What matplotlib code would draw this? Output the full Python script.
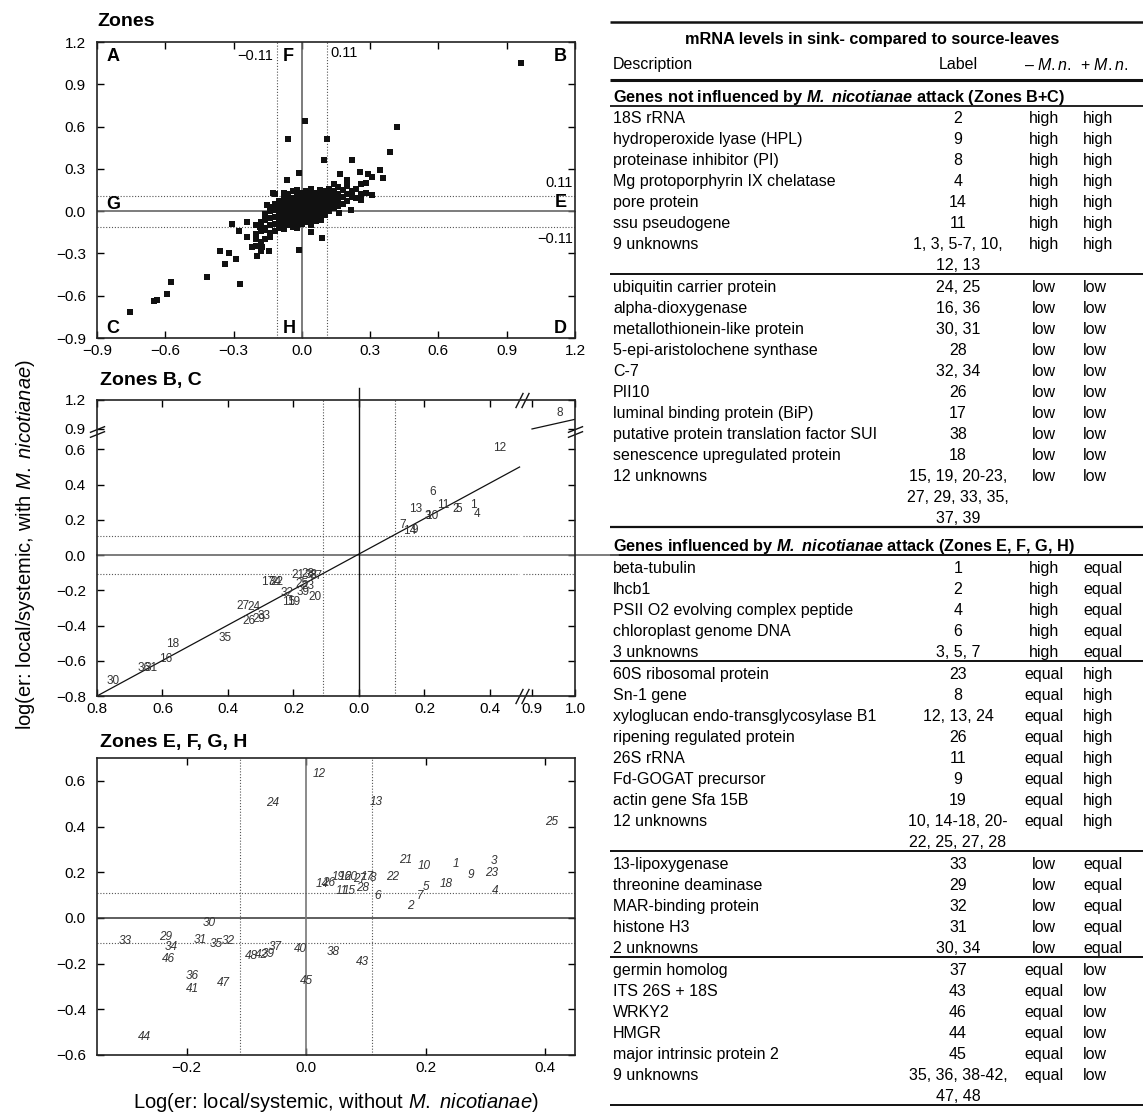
import numpy as np
import matplotlib.pyplot as plt
from matplotlib.transforms import offset_copy

plt.rcParams['font.family'] = ['Liberation Sans', 'DejaVu Sans']
plt.rcParams['mathtext.fontset'] = 'custom'
plt.rcParams['mathtext.rm'] = 'Liberation Sans'
plt.rcParams['mathtext.it'] = 'Liberation Sans:italic'
plt.rcParams['mathtext.bf'] = 'Liberation Sans:bold'
plt.rcParams['mathtext.bfit'] = 'Liberation Sans:italic:bold'

# ---------------- data ----------------
# top panel: every spot (x = without M.n., y = with M.n.)
zone_outliers = [
    (-0.756, -0.716), (-0.65, -0.638), (-0.637, -0.631), (-0.593, -0.589),
    (-0.575, -0.504), (-0.417, -0.47), (-0.36, -0.284), (-0.32, -0.30),
    (-0.337, -0.377), (-0.29, -0.343), (-0.272, -0.52), (-0.307, -0.092),
    (-0.24, -0.08), (-0.278, -0.142), (-0.243, -0.184), (-0.221, -0.255),
    (-0.199, -0.319), (-0.177, -0.255), (-0.145, -0.284), (-0.163, -0.135),
    (-0.185, -0.113), (-0.141, -0.156), (-0.128, 0.128), (-0.155, 0.043),
    (-0.064, 0.22), (-0.06, 0.51), (-0.012, 0.27), (-0.012, -0.277),
    (0.962, 1.05), (0.013, 0.638), (0.11, 0.51), (0.098, 0.366),
    (0.42, 0.60), (0.388, 0.418), (0.22, 0.36), (0.343, 0.29),
    (0.356, 0.233), (0.255, 0.28), (0.29, 0.26), (0.307, 0.24),
    (0.167, 0.26), (0.2, 0.22), (0.31, 0.113), (0.262, 0.078),
    (0.215, 0.007), (0.163, -0.015), (0.083, -0.064), (0.04, -0.149),
    (0.088, -0.19),
]
zone_cluster = {
    -0.20: [-0.25, -0.2, -0.16, -0.1],
    -0.18: [-0.28, -0.22, -0.14, -0.08],
    -0.16: [-0.2, -0.12, -0.06, -0.02],
    -0.14: [-0.18, -0.1, -0.05, 0.0, 0.03],
    -0.12: [-0.14, -0.09, -0.04, 0.01, 0.05, 0.12],
    -0.10: [-0.12, -0.08, -0.05, -0.01, 0.03, 0.07],
    -0.08: [-0.13, -0.09, -0.06, -0.02, 0.02, 0.05, 0.09, 0.13],
    -0.06: [-0.1, -0.07, -0.03, 0.0, 0.04, 0.08, 0.12],
    -0.04: [-0.11, -0.08, -0.04, -0.01, 0.02, 0.05, 0.09, 0.14],
    -0.02: [-0.12, -0.08, -0.05, -0.02, 0.01, 0.04, 0.07, 0.11, 0.15],
    0.00: [-0.09, -0.06, -0.03, 0.0, 0.03, 0.06, 0.1, 0.13],
    0.02: [-0.08, -0.05, -0.02, 0.01, 0.04, 0.07, 0.1, 0.14],
    0.04: [-0.1, -0.06, -0.03, 0.0, 0.03, 0.06, 0.09, 0.12, 0.16],
    0.06: [-0.07, -0.04, 0.0, 0.03, 0.06, 0.09, 0.13],
    0.08: [-0.05, -0.02, 0.02, 0.05, 0.08, 0.11, 0.15],
    0.10: [-0.03, 0.0, 0.03, 0.06, 0.1, 0.14],
    0.12: [0.0, 0.04, 0.08, 0.12, 0.16],
    0.14: [0.02, 0.06, 0.1, 0.14, 0.19],
    0.16: [0.04, 0.08, 0.12, 0.17],
    0.18: [0.05, 0.1, 0.15],
    0.20: [0.07, 0.12, 0.18],
    0.22: [0.1, 0.14],
    0.24: [0.09, 0.16],
    0.26: [0.12, 0.19],
    0.28: [0.13, 0.2],
}

# middle panel: zones B, C (label, x, y)
bc_labels = [
    ('1', 0.348, 0.283), ('2', 0.295, 0.26), ('3', 0.21, 0.22), ('4', 0.36, 0.232),
    ('5', 0.305, 0.26), ('6', 0.226, 0.357), ('7', 0.134, 0.17), ('8', 0.965, 1.07),
    ('9', 0.17, 0.14), ('10', 0.222, 0.222), ('11', 0.258, 0.283), ('12', 0.43, 0.606),
    ('13', 0.174, 0.26), ('14', 0.155, 0.136),
    ('30', -0.75, -0.714), ('36', -0.655, -0.64), ('31', -0.635, -0.64),
    ('16', -0.59, -0.589), ('18', -0.57, -0.504), ('35', -0.41, -0.47),
    ('27', -0.355, -0.29), ('24', -0.32, -0.295), ('26', -0.335, -0.375),
    ('29', -0.305, -0.365), ('33', -0.29, -0.345), ('17', -0.28, -0.153),
    ('34', -0.255, -0.153), ('22', -0.25, -0.155), ('21', -0.185, -0.113),
    ('28', -0.155, -0.11), ('38', -0.145, -0.115), ('37', -0.13, -0.12),
    ('25', -0.175, -0.165), ('23', -0.155, -0.175), ('39', -0.17, -0.21),
    ('32', -0.22, -0.215), ('15', -0.215, -0.265), ('19', -0.2, -0.265),
    ('20', -0.135, -0.24),
]

# bottom panel: zones E, F, G, H (label, x, y)
efgh_labels = [
    ('12', 0.022, 0.628), ('13', 0.117, 0.507), ('24', -0.057, 0.503), ('25', 0.41, 0.42),
    ('3', 0.315, 0.25), ('23', 0.31, 0.197), ('4', 0.316, 0.12), ('9', 0.275, 0.187),
    ('1', 0.25, 0.235), ('18', 0.235, 0.15), ('5', 0.2, 0.135), ('7', 0.19, 0.095),
    ('2', 0.174, 0.052), ('21', 0.166, 0.253), ('10', 0.198, 0.227), ('22', 0.144, 0.18),
    ('6', 0.119, 0.095), ('14', 0.027, 0.148), ('26', 0.037, 0.152), ('19', 0.054, 0.178),
    ('16', 0.065, 0.178), ('20', 0.075, 0.178), ('27', 0.089, 0.17), ('17', 0.102, 0.178),
    ('8', 0.112, 0.176), ('11', 0.06, 0.118), ('15', 0.072, 0.12), ('28', 0.095, 0.133),
    ('30', -0.162, -0.023), ('33', -0.303, -0.10), ('29', -0.235, -0.083),
    ('34', -0.225, -0.127), ('31', -0.178, -0.097), ('35', -0.151, -0.115),
    ('32', -0.131, -0.10), ('37', -0.052, -0.127), ('40', -0.01, -0.137),
    ('38', 0.045, -0.15), ('46', -0.23, -0.18), ('36', -0.19, -0.256),
    ('41', -0.19, -0.312), ('47', -0.139, -0.287), ('45', 0.0, -0.277),
    ('44', -0.27, -0.52), ('43', 0.094, -0.193), ('48', -0.092, -0.167),
    ('42', -0.075, -0.163), ('39', -0.064, -0.158),
]

threshold = 0.11

# table
table_title = 'mRNA levels in sink- compared to source-leaves'
group1 = r'Genes not influenced by $\mathbfit{M.\ nicotianae}$ attack (Zones B+C)'
group2 = r'Genes influenced by $\mathbfit{M.\ nicotianae}$ attack (Zones E, F, G, H)'
block_1a = [
    ('18S rRNA', '2', 'high', 'high'),
    ('hydroperoxide lyase (HPL)', '9', 'high', 'high'),
    ('proteinase inhibitor (PI)', '8', 'high', 'high'),
    ('Mg protoporphyrin IX chelatase', '4', 'high', 'high'),
    ('pore protein', '14', 'high', 'high'),
    ('ssu pseudogene', '11', 'high', 'high'),
    ('9 unknowns', '1, 3, 5-7, 10,\n12, 13', 'high', 'high'),
]
block_1b = [
    ('ubiquitin carrier protein', '24, 25', 'low', 'low'),
    ('alpha-dioxygenase', '16, 36', 'low', 'low'),
    ('metallothionein-like protein', '30, 31', 'low', 'low'),
    ('5-epi-aristolochene synthase', '28', 'low', 'low'),
    ('C-7', '32, 34', 'low', 'low'),
    ('PII10', '26', 'low', 'low'),
    ('luminal binding protein (BiP)', '17', 'low', 'low'),
    ('putative protein translation factor SUI', '38', 'low', 'low'),
    ('senescence upregulated protein', '18', 'low', 'low'),
    ('12 unknowns', '15, 19, 20-23,\n27, 29, 33, 35,\n37, 39', 'low', 'low'),
]
block_2a = [
    ('beta-tubulin', '1', 'high', 'equal'),
    ('lhcb1', '2', 'high', 'equal'),
    ('PSII O2 evolving complex peptide', '4', 'high', 'equal'),
    ('chloroplast genome DNA', '6', 'high', 'equal'),
    ('3 unknowns', '3, 5, 7', 'high', 'equal'),
]
block_2b = [
    ('60S ribosomal protein', '23', 'equal', 'high'),
    ('Sn-1 gene', '8', 'equal', 'high'),
    ('xyloglucan endo-transglycosylase B1', '12, 13, 24', 'equal', 'high'),
    ('ripening regulated protein', '26', 'equal', 'high'),
    ('26S rRNA', '11', 'equal', 'high'),
    ('Fd-GOGAT precursor', '9', 'equal', 'high'),
    ('actin gene Sfa 15B', '19', 'equal', 'high'),
    ('12 unknowns', '10, 14-18, 20-\n22, 25, 27, 28', 'equal', 'high'),
]
block_2c = [
    ('13-lipoxygenase', '33', 'low', 'equal'),
    ('threonine deaminase', '29', 'low', 'equal'),
    ('MAR-binding protein', '32', 'low', 'equal'),
    ('histone H3', '31', 'low', 'equal'),
    ('2 unknowns', '30, 34', 'low', 'equal'),
]
block_2d = [
    ('germin homolog', '37', 'equal', 'low'),
    ('ITS 26S + 18S', '43', 'equal', 'low'),
    ('WRKY2', '46', 'equal', 'low'),
    ('HMGR', '44', 'equal', 'low'),
    ('major intrinsic protein 2', '45', 'equal', 'low'),
    ('9 unknowns', '35, 36, 38-42,\n47, 48', 'equal', 'low'),
]

# ---------------- helpers ----------------
W, H = 1143, 1115
fig = plt.figure(figsize=(W / 100, H / 100), dpi=100)


def box(left, top, right, bottom):
    return [left / W, 1 - bottom / H, (right - left) / W, (bottom - top) / H]


def fmt(v):
    if abs(v) < 1e-9:
        v = 0.0
    return ('%.1f' % v).replace('-', '\u2212')


def style(ax):
    ax.tick_params(direction='in', length=5, width=1, top=True, right=True,
                   labelsize=11)
    ax.tick_params(axis='y', pad=8)
    ax.tick_params(axis='x', pad=4)
    for sp in ax.spines.values():
        sp.set_linewidth(1.2)
        sp.set_color('#222222')


dot = dict(color='#555555', lw=0.8, ls=(0, (1, 1.6)))

# ---------------- table (pixel layout overlay) ----------------
tab = fig.add_axes([0, 0, 1, 1])
tab.set_xlim(0, W)
tab.set_ylim(H, 0)
tab.axis('off')

ROW = 21
X_DESC, X_LAB, X_MIN, X_PLUS = 613, 958, 1044, 1083
TS = 11.5
VA = 'center_baseline'


def rule(y, lw=1.3):
    tab.plot([610, W], [y, y], color='#111111', lw=lw, solid_capstyle='butt')


def draw_block(rows, y):
    for desc, lab, minus, plus in rows:
        lines = lab.split('\n')
        tab.text(X_DESC, y, desc, fontsize=TS, va=VA, ha='left')
        for i, l in enumerate(lines):
            tab.text(X_LAB, y + i * ROW, l, fontsize=TS, va=VA, ha='center')
        tab.text(X_MIN, y, minus, fontsize=TS, va=VA, ha='center')
        tab.text(X_PLUS, y, plus, fontsize=TS, va=VA, ha='left')
        y += ROW * len(lines)
    return y


rule(22, 1.8)
tab.text(872, 38, table_title, fontsize=11.7, fontweight='bold', ha='center', va=VA)
tab.text(X_DESC, 63, 'Description', fontsize=TS, va=VA)
tab.text(X_LAB, 63, 'Label', fontsize=TS, va=VA, ha='center')
tab.text(1048, 63, '\u2013 $\\mathit{M.n.}$', fontsize=TS, va=VA, ha='center')
tab.text(1080, 63, '+ $\\mathit{M.n.}$', fontsize=TS, va=VA, ha='left')
rule(80, 2.2)
tab.text(X_DESC, 95, group1, fontsize=11.7, fontweight='bold', va=VA)
rule(106, 1.3)

y = 117
for blk in [block_1a, block_1b]:
    y = draw_block(blk, y)
    r = y - ROW + 10
    rule(r, 1.6 if blk is block_1b else 1.4)
    y = r + 12
tab.text(X_DESC, y + 5, group2, fontsize=11.7, fontweight='bold', va=VA)
rule(y + 16, 1.4)
y = y + 28
for blk in [block_2a, block_2b, block_2c, block_2d]:
    y = draw_block(blk, y)
    r = y - ROW + 10
    rule(r, 1.4)
    y = r + 12

# ---------------- top panel: Zones ----------------
ax1 = fig.add_axes(box(97, 42, 575, 338))
zx = [p[0] for p in zone_outliers]
zy = [p[1] for p in zone_outliers]
for cx, ys in zone_cluster.items():
    zx += [cx] * len(ys)
    zy += ys
ax1.axhline(0, color='#666666', lw=1.2)
ax1.axvline(0, color='#666666', lw=1.2)
for t in (-threshold, threshold):
    ax1.axhline(t, **dot)
    ax1.axvline(t, **dot)
ax1.scatter(zx, zy, marker='s', s=22, color='#111111', linewidths=0, zorder=3)
ax1.set_xlim(-0.9, 1.2)
ax1.set_ylim(-0.9, 1.2)
tk = np.arange(-0.9, 1.21, 0.3)
ax1.set_xticks(tk, [fmt(v) for v in tk])
ax1.set_yticks(tk, [fmt(v) for v in tk])
style(ax1)
zone_letters = [('A', -0.86, 1.1, 'left'), ('B', 1.165, 1.1, 'right'),
                ('C', -0.86, -0.83, 'left'), ('D', 1.165, -0.83, 'right'),
                ('F', -0.085, 1.1, 'left'), ('H', -0.085, -0.83, 'left'),
                ('G', -0.86, 0.045, 'left'), ('E', 1.165, 0.06, 'right')]
for s, x, yy, ha in zone_letters:
    ax1.text(x, yy, s, fontsize=13, fontweight='bold', ha=ha, va='center')
ax1.text(-0.125, 1.1, '\u22120.11', fontsize=10.5, ha='right', va='center')
ax1.text(0.125, 1.12, '0.11', fontsize=10.5, ha='left', va='center')
ax1.text(1.19, 0.2, '0.11', fontsize=10.5, ha='right', va='center')
ax1.text(1.19, -0.2, '\u22120.11', fontsize=10.5, ha='right', va='center')
fig.text(97 / W, 1 - 22 / H, 'Zones', fontsize=14, fontweight='bold', va='center')

# ---------------- middle panel: Zones B, C (broken axes) ----------------
XB_IN = [-5, 0.49, 0.88, 5]
XB_OUT = [-5, 0.49, 0.502, 0.502 + 4.12 * 1.313]
YB_IN = [-5, 0.70, 0.88, 5]
YB_OUT = [-5, 0.70, 0.705, 0.705 + 4.12 * 0.548]

ax2 = fig.add_axes(box(97, 400, 575, 696))
ax2.set_xscale('function', functions=(lambda v: np.interp(v, XB_IN, XB_OUT),
                                      lambda v: np.interp(v, XB_OUT, XB_IN)))
ax2.set_yscale('function', functions=(lambda v: np.interp(v, YB_IN, YB_OUT),
                                      lambda v: np.interp(v, YB_OUT, YB_IN)))
ax2.set_xlim(-0.8, 1.0)
ax2.set_ylim(-0.8, 1.2)
for t in (-threshold, threshold):
    ax2.plot([-0.8, 0.49], [t, t], **dot)
    ax2.plot([0.88, 1.0], [t, t], **dot)
    ax2.axvline(t, **dot)
ax2.plot([-0.8, 1.1], [0, 0], color='#666666', lw=1.2, clip_on=False)
ax2.plot([0, 0], [-0.8, 1.32], color='#111111', lw=1.0, clip_on=False)
ax2.plot([-0.8, 0.5], [-0.8, 0.5], color='#111111', lw=0.9)
ax2.plot([0.9, 1.0], [0.9, 1.0], color='#111111', lw=0.9)
for s, x, yy in bc_labels:
    ax2.text(x, yy, s, fontsize=8.5, color='#333333', ha='center', va='center')
xt = [-0.8, -0.6, -0.4, -0.2, 0.0, 0.2, 0.4, 0.9, 1.0]
ax2.set_xticks(xt, [fmt(abs(v)) for v in xt])
yt = [-0.8, -0.6, -0.4, -0.2, 0.0, 0.2, 0.4, 0.6, 0.9, 1.2]
ax2.set_yticks(yt, [fmt(v) for v in yt])
style(ax2)

# break marks
slash = [(-0.5, -1.0), (0.5, 1.0)]
flat = [(-1.0, -0.4), (1.0, 0.4)]
xtr = ax2.get_xaxis_transform()
ytr = ax2.get_yaxis_transform()
for dx in (-3, 3):
    tr = offset_copy(xtr, fig=fig, x=dx * 0.72, y=0, units='points')
    ax2.plot([0.70, 0.70], [0, 1], ls='none', marker=slash, ms=11, mew=1.0,
             color='#111111', transform=tr, clip_on=False)
for dy in (-2.5, 2.5):
    tr = offset_copy(ytr, fig=fig, x=0, y=dy * 0.72, units='points')
    ax2.plot([0, 1], [0.79, 0.79], ls='none', marker=flat, ms=11, mew=1.0,
             color='#111111', transform=tr, clip_on=False)
fig.text(100 / W, 1 - 381 / H, 'Zones B, C', fontsize=14, fontweight='bold', va='center')

# ---------------- bottom panel: Zones E, F, G, H ----------------
ax3 = fig.add_axes(box(97, 758, 575, 1055))
ax3.set_xlim(-0.35, 0.45)
ax3.set_ylim(-0.6, 0.7)
ax3.axhline(0, color='#333333', lw=1.1)
ax3.axvline(0, color='#777777', lw=1.2)
for t in (-threshold, threshold):
    ax3.axhline(t, **dot)
    ax3.axvline(t, **dot)
for s, x, yy in efgh_labels:
    ax3.text(x, yy, s, fontsize=8.5, style='italic', color='#333333',
             ha='center', va='center')
xt3 = [-0.2, 0.0, 0.2, 0.4]
ax3.set_xticks(xt3, [fmt(v) for v in xt3])
yt3 = [-0.6, -0.4, -0.2, 0.0, 0.2, 0.4, 0.6]
ax3.set_yticks(yt3, [fmt(v) for v in yt3])
style(ax3)
fig.text(100 / W, 1 - 742 / H, 'Zones E, F, G, H', fontsize=14, fontweight='bold', va='center')

# axis titles
fig.text(336 / W, 1 - 1102 / H, r'Log(er: local/systemic, without $\mathit{M.\ nicotianae}$)',
         fontsize=14.5, ha='center', va='center')
fig.text(26 / W, 1 - 545 / H, r'log(er: local/systemic, with $\mathit{M.\ nicotianae}$)',
         fontsize=14.5, ha='center', va='center', rotation=90)

fig.savefig('out.png', dpi=100)
